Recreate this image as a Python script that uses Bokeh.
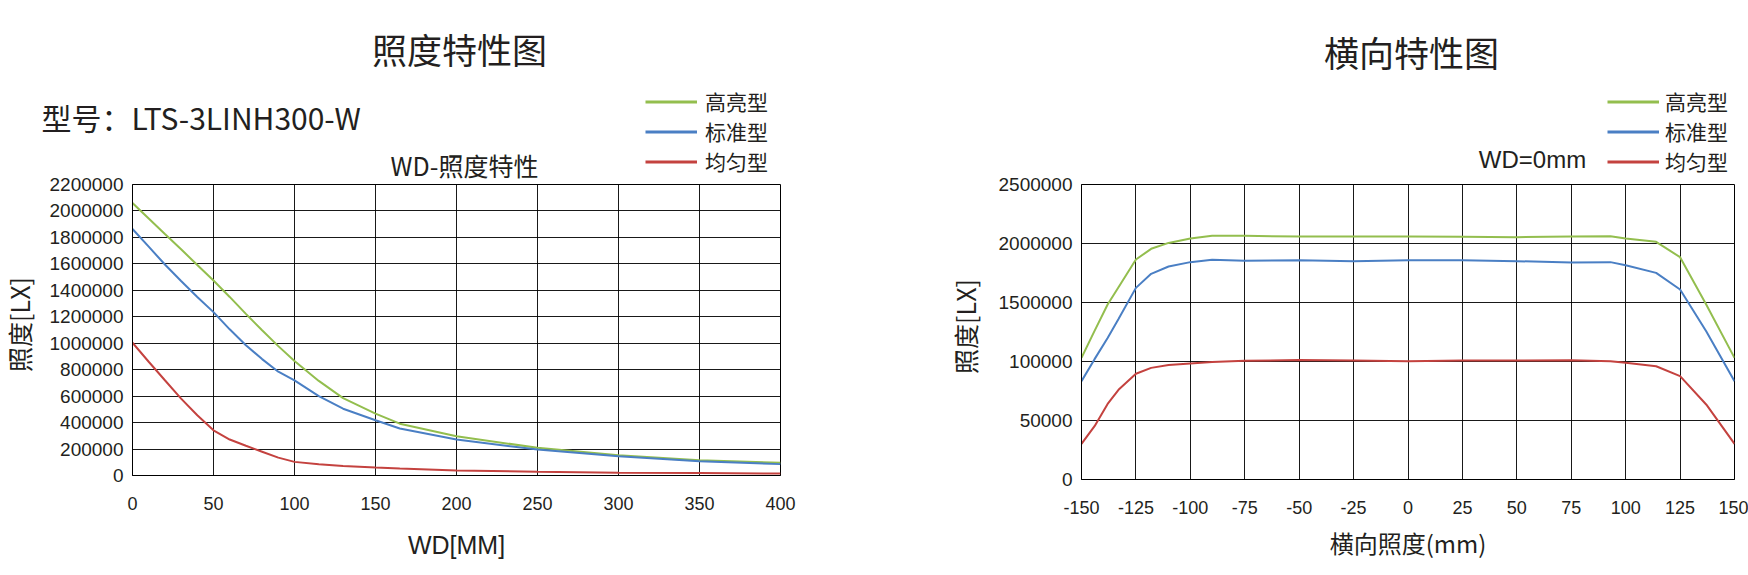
import math
from bokeh.plotting import figure
from bokeh.models import Range1d, FixedTicker, Label, Legend, LegendItem
from bokeh.layouts import row, column
from bokeh.embed import file_html
from bokeh.resources import INLINE

# ---------------- data: left chart (WD - illuminance) ----------------
wd_mm = [0, 10, 20, 30, 40, 50, 60, 70, 80, 90, 100, 115, 130, 150, 165, 200, 250, 300, 350, 400]
wd_high = [2060000, 1943000, 1826000, 1710000, 1592000, 1474000, 1350000, 1222000, 1098000, 978000,
           865000, 715000, 585000, 468000, 392000, 297000, 209000, 153000, 116000, 96000]
wd_std = [1864000, 1730000, 1595000, 1470000, 1350000, 1235000, 1105000, 985000, 880000, 785000,
          719000, 600000, 505000, 418000, 355000, 272000, 196000, 146000, 108000, 86000]
wd_even = [1004000, 860000, 720000, 581000, 455000, 342000, 272000, 225000, 180000, 135000,
           103000, 85000, 72000, 60000, 53000, 38000, 28000, 20000, 18000, 15000]
wd_xticks = [0, 50, 100, 150, 200, 250, 300, 350, 400]
wd_yticks = [0, 200000, 400000, 600000, 800000, 1000000, 1200000, 1400000, 1600000, 1800000, 2000000, 2200000]
wd_ytick_labels = ["0", "200000", "400000", "600000", "800000", "1000000", "1200000",
                   "1400000", "1600000", "1800000", "2000000", "2200000"]

# ---------------- data: right chart (lateral) ----------------
lat_mm = [-150, -144, -138, -133, -125, -118, -110, -100, -90, -75, -50, -25, 0, 25, 50, 75, 93, 100, 114, 125, 137, 150]
lat_high = [1031000, 1260000, 1483000, 1630000, 1864000, 1955000, 2005000, 2042000, 2065000, 2065000, 2059000,
            2059000, 2059000, 2057000, 2054000, 2059000, 2062000, 2042000, 2014000, 1884000, 1483000, 1031000]
lat_std = [833000, 1020000, 1200000, 1360000, 1624000, 1743000, 1805000, 1842000, 1862000, 1853000, 1859000,
           1850000, 1859000, 1859000, 1850000, 1839000, 1842000, 1816000, 1751000, 1610000, 1257000, 833000]
lat_even = [302000, 452000, 640000, 760000, 896000, 946000, 970000, 983000, 995000, 1006000, 1012000,
            1008000, 1003000, 1008000, 1008000, 1011000, 1003000, 989000, 960000, 876000, 636000, 302000]
lat_xticks = [-150, -125, -100, -75, -50, -25, 0, 25, 50, 75, 100, 125, 150]
lat_yticks = [0, 500000, 1000000, 1500000, 2000000, 2500000]
lat_ytick_labels = ["0", "50000", "100000", "1500000", "2000000", "2500000"]

series_names = ["高亮型", "标准型", "均匀型"]
series_colors = ["#93BE4E", "#4A7FC4", "#C4423F"]

CJK = "Noto Sans CJK SC"
NUM = "Liberation Sans"
TXT = "#231f20"
NAN = float("nan")
OVERLAP = 10  # the chart row slides up under the header strip (transparent borders)


def text_fig(w, h, transparent=False):
    """Blank figure whose frame covers the whole canvas; y grows downward."""
    p = figure(frame_width=w, frame_height=h, min_border=0,
               x_range=Range1d(0, w), y_range=Range1d(h, 0),
               x_axis_location=None, y_axis_location=None,
               output_backend="svg", toolbar_location=None, tools="")
    p.grid.visible = False
    p.outline_line_color = None
    if transparent:
        p.background_fill_alpha = 0
        p.border_fill_alpha = 0
    else:
        p.background_fill_color = "white"
        p.border_fill_color = "white"
    return p


def add_text(p, x, y, text, size, font=CJK, align="center", angle=0.0):
    p.add_layout(Label(x=x, y=y, text=text, text_font=font, text_font_size=size,
                       text_color=TXT, text_align=align, text_baseline="middle", angle=angle))


def add_legend(p, loc, standoff):
    items = []
    for n, c in zip(series_names, series_colors):
        # legend-only renderer (no visible points of its own)
        r = p.line(x=[NAN], y=[NAN], line_color=c, line_width=3)
        items.append(LegendItem(label=n, renderers=[r]))
    lg = Legend(items=items, location=loc, orientation="vertical",
                glyph_width=52, glyph_height=29, label_height=29, label_standoff=standoff,
                spacing=0, padding=0, margin=0, border_line_color=None,
                background_fill_alpha=0, label_text_font=CJK, label_text_font_size="21px",
                label_text_color=TXT)
    p.add_layout(lg)


def chart_fig(xr, yr, xticks, yticks, ylabels, fw, fh, bl, br, bt, bb, xlabel, xlabel_font, xl_standoff):
    p = figure(frame_width=fw, frame_height=fh,
               min_border_left=bl, min_border_right=br, min_border_top=bt, min_border_bottom=bb,
               x_range=Range1d(*xr), y_range=Range1d(*yr),
               output_backend="svg", toolbar_location=None, tools="")
    p.background_fill_color = "white"
    p.border_fill_alpha = 0
    p.outline_line_color = "black"
    p.outline_line_width = 1
    p.xaxis.ticker = FixedTicker(ticks=xticks)
    p.yaxis.ticker = FixedTicker(ticks=yticks)
    p.xaxis.major_label_overrides = {t: str(t) for t in xticks}
    p.yaxis.major_label_overrides = {t: lab for t, lab in zip(yticks, ylabels)}
    for ax in (p.xaxis, p.yaxis):
        ax.major_tick_out = 0
        ax.major_tick_in = 0
        ax.minor_tick_out = 0
        ax.minor_tick_in = 0
        ax.axis_line_color = "black"
        ax.axis_line_width = 1
        ax.major_label_text_font = NUM
        ax.major_label_text_color = TXT
    p.xaxis.major_label_text_font_size = "18px"
    p.yaxis.major_label_text_font_size = "19px"
    p.xaxis.major_label_standoff = 21
    p.yaxis.major_label_standoff = 9
    p.xaxis.axis_label = xlabel
    p.xaxis.axis_label_text_font = xlabel_font
    p.xaxis.axis_label_text_font_size = "25px" if xlabel_font == NUM else "24px"
    p.xaxis.axis_label_text_font_style = "normal"
    p.xaxis.axis_label_text_color = TXT
    p.xaxis.axis_label_standoff = xl_standoff
    p.xgrid.ticker = FixedTicker(ticks=xticks)
    p.ygrid.ticker = FixedTicker(ticks=yticks)
    for g in (p.xgrid, p.ygrid):
        g.grid_line_color = "black"
        g.grid_line_width = 1
        g.grid_line_alpha = 0.9
    return p


# ---------------- header strip (titles, notes, legends) ----------------
HDR_W, HDR_H = 1748, 182          # page y 0 .. 182
hdr = text_fig(HDR_W, HDR_H)
add_text(hdr, 459, 48, "照度特性图", "35px")
add_text(hdr, 41, 116, "型号：LTS-3LINH300-W", "30px", align="left")
add_text(hdr, 464, 164, "WD-照度特性", "25px")
add_text(hdr, 1411, 51, "横向特性图", "35px")
add_text(hdr, 1532, 159, "WD=0mm", "24px", font=NUM)
add_legend(hdr, (645, 6), 8)
add_legend(hdr, (1607, 6), 6)

ROW_H = 393 + OVERLAP             # page y 172 .. 575
ROW_TOP = HDR_H - OVERLAP
# left y-axis title
ylab1 = text_fig(46, ROW_H, transparent=True)
add_text(ylab1, 18, 312 - ROW_TOP, "照度[LX]", "25px", angle=math.pi / 2)

# ---------------- left chart ----------------
p1 = chart_fig((0, 400), (0, 2200000), wd_xticks, wd_yticks, wd_ytick_labels,
               648, 291, 86, 20, 184 - ROW_TOP, 575 - 475, "WD[MM]", NUM, 18)
for ys, c in zip([wd_high, wd_std, wd_even], series_colors):
    p1.line(wd_mm, ys, line_color=c, line_width=2)

# right y-axis title
ylab2 = text_fig(192, ROW_H, transparent=True)
add_text(ylab2, 164, 314 - ROW_TOP, "照度[LX]", "25px", angle=math.pi / 2)

# ---------------- right chart ----------------
p2 = chart_fig((-150, 150), (0, 2500000), lat_xticks, lat_yticks, lat_ytick_labels,
               653, 295, 89, 14, 183 - ROW_TOP, 575 - 478, "横向照度(mm)", CJK, 8)
for ys, c in zip([lat_high, lat_std, lat_even], series_colors):
    p2.line(lat_mm, ys, line_color=c, line_width=2)

charts = row(ylab1, p1, ylab2, p2, margin=(-OVERLAP, 0, 0, 0))
layout = column(hdr, charts)
open("out.html", "w").write(file_html(layout, INLINE))
